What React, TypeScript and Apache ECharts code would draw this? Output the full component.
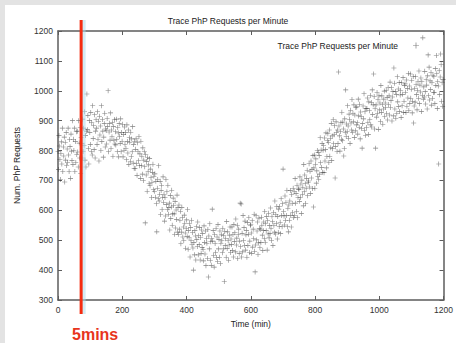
import { useEffect, useRef } from 'react';
import * as echarts from 'echarts';

const chartTitle = 'Trace PhP Requests per Minute';
const seriesName = 'Trace PhP Requests per Minute';
const xAxisName = 'Time (min)';
const yAxisName = 'Num. PhP Requests';
const markerLabel = '5mins';
const markerMinute = 72;
const minuteStep = 1.5;
const xRange = [0, 1200];
const xTickStep = 200;
const yRange = [300, 1200];
const yTickStep = 100;

// Requests per sample, one sample every 1.5 minutes (20 samples = 30 minutes per row)
const requests = [
  797, 737, 850, 815, 770, 703, 790, 829, 755, 875, 730, 812, 782, 845, 695, 828, 768, 860, 750, 805,
  760, 875, 785, 730, 837, 813, 707, 855, 798, 767, 900, 753, 838, 800, 875, 730, 830, 760, 863, 787,
  865, 795, 745, 900, 825, 775, 877, 723, 843, 823, 775, 905, 797, 875, 818, 930, 768, 850, 745, 865,
  989, 870, 917, 807, 755, 900, 860, 820, 927, 797, 893, 785, 950, 840, 883, 803, 920, 775, 865, 903,
  875, 820, 930, 838, 898, 765, 915, 852, 882, 800, 950, 830, 904, 865, 778, 845, 890, 925, 812, 872,
  867, 822, 907, 880, 1000, 796, 862, 891, 835, 926, 807, 869, 846, 893, 781, 880, 835, 904, 822, 863,
  819, 905, 837, 796, 877, 859, 779, 890, 847, 824, 906, 796, 860, 831, 888, 779, 854, 801, 879, 821,
  860, 807, 769, 886, 830, 792, 869, 753, 843, 828, 764, 861, 780, 839, 796, 880, 758, 820, 741, 831,
  740, 804, 839, 756, 717, 826, 796, 766, 847, 749, 789, 707, 831, 749, 781, 721, 809, 700, 768, 796,
  746, 558, 787, 718, 763, 664, 776, 729, 752, 690, 773, 682, 738, 709, 643, 694, 727, 754, 669, 714,
  664, 722, 644, 697, 622, 528, 674, 703, 639, 749, 631, 654, 697, 586, 666, 684, 603, 644, 712, 626,
  654, 564, 643, 581, 703, 619, 662, 603, 684, 587, 609, 624, 534, 650, 573, 611, 667, 550, 588, 641,
  616, 588, 520, 629, 541, 601, 569, 651, 527, 609, 520, 618, 537, 567, 597, 488, 527, 610, 575, 511,
  544, 499, 584, 557, 524, 473, 539, 568, 512, 603, 470, 532, 509, 556, 444, 543, 498, 567, 485, 526,
  474, 400, 492, 451, 532, 514, 434, 545, 502, 479, 561, 451, 515, 486, 543, 434, 509, 456, 534, 476,
  522, 469, 431, 548, 492, 454, 531, 415, 505, 490, 439, 536, 377, 514, 471, 555, 433, 495, 416, 506,
  604, 497, 532, 449, 410, 519, 489, 459, 540, 442, 511, 429, 553, 471, 503, 443, 531, 422, 490, 518,
  499, 458, 540, 471, 516, 362, 529, 482, 505, 443, 563, 472, 528, 499, 433, 484, 517, 544, 459, 504,
  486, 544, 466, 519, 444, 553, 496, 525, 461, 571, 484, 507, 550, 439, 519, 537, 456, 497, 624, 479,
  621, 444, 523, 461, 583, 499, 542, 483, 564, 467, 518, 533, 443, 559, 482, 520, 576, 459, 497, 550,
  552, 524, 456, 565, 477, 537, 505, 587, 463, 394, 484, 582, 501, 531, 561, 452, 491, 574, 539, 475,
  537, 492, 577, 550, 517, 466, 532, 561, 505, 596, 493, 555, 532, 579, 467, 566, 521, 590, 508, 549,
  522, 608, 540, 499, 580, 562, 482, 593, 550, 527, 631, 521, 585, 556, 613, 504, 579, 526, 604, 546,
  613, 560, 522, 639, 583, 545, 622, 738, 596, 581, 551, 648, 567, 626, 583, 667, 545, 607, 528, 618,
  567, 631, 666, 583, 544, 653, 623, 593, 674, 576, 664, 582, 706, 624, 656, 596, 684, 575, 643, 671,
  671, 630, 712, 643, 688, 589, 701, 654, 677, 615, 753, 662, 718, 689, 623, 674, 707, 734, 649, 694,
  698, 756, 678, 731, 656, 765, 708, 737, 673, 783, 611, 742, 785, 674, 754, 772, 691, 732, 800, 714,
  794, 704, 783, 721, 843, 759, 802, 743, 824, 727, 801, 816, 726, 842, 765, 803, 859, 742, 780, 833,
  856, 828, 760, 869, 781, 841, 809, 891, 767, 849, 806, 904, 823, 853, 883, 708, 813, 896, 861, 797,
  869, 824, 1063, 882, 849, 798, 864, 893, 837, 928, 833, 895, 872, 782, 807, 906, 861, 1003, 848, 889,
  864, 950, 882, 841, 922, 904, 824, 935, 892, 869, 971, 861, 925, 896, 953, 844, 919, 866, 944, 886,
  946, 893, 855, 972, 916, 878, 955, 839, 929, 914, 874, 808, 890, 949, 906, 990, 868, 930, 851, 941,
  877, 941, 976, 893, 854, 963, 933, 903, 984, 886, 961, 879, 1003, 921, 953, 1056, 981, 872, 940, 808,
  953, 912, 994, 925, 970, 871, 983, 936, 959, 897, 1018, 927, 983, 954, 888, 939, 972, 999, 914, 959,
  944, 1002, 924, 977, 902, 1011, 954, 983, 919, 1029, 944, 967, 1010, 899, 979, 997, 916, 1076, 1025, 939,
  998, 908, 987, 925, 1047, 963, 1006, 947, 1028, 931, 986, 1001, 911, 1027, 950, 988, 1044, 927, 965, 1018,
  1023, 995, 927, 1036, 948, 1008, 976, 1058, 934, 1016, 958, 1056, 975, 1005, 1035, 926, 965, 1048, 892, 949,
  1007, 962, 1047, 1020, 987, 936, 1002, 1031, 975, 1066, 957, 1019, 996, 1043, 931, 1030, 985, 1177, 972, 1013,
  979, 1065, 997, 956, 1037, 1019, 939, 1050, 1120, 984, 1079, 969, 1033, 1004, 1061, 952, 1027, 974, 1052, 994,
  1048, 995, 957, 1074, 1018, 1118, 1057, 941, 1031, 1016, 755, 1068, 987, 1046, 1123, 1087, 965, 1027, 948, 1038,
];

const FONT = '"Liberation Sans", Arial, Helvetica, sans-serif';
const PLUS = 'path://M4.4,0H5.6V4.4H10V5.6H5.6V10H4.4V5.6H0V4.4H4.4Z';

export default function App() {
  const ref = useRef<HTMLDivElement>(null);

  useEffect(() => {
    document.body.style.margin = '0';
    if (!ref.current) return;
    const chart = echarts.init(ref.current, null, { renderer: 'svg' });
    const points = requests.map((v, i) => [i * minuteStep, v]);

    const axisLine = { show: true, onZero: false, lineStyle: { color: '#5c5c5c', width: 1.5 } };
    const axisTick = { show: true, inside: true, length: 4, lineStyle: { color: '#5c5c5c', width: 1 } };
    const labelStyle = { color: '#333', fontSize: 8.5, fontFamily: FONT, formatter: (v: number) => String(v) };

    chart.setOption({
      animation: false,
      backgroundColor: 'transparent',
      textStyle: { fontFamily: FONT },
      title: {
        text: chartTitle,
        left: 'center',
        top: 11,
        textStyle: { fontSize: 8.5, fontWeight: 'normal', color: '#222', fontFamily: FONT },
      },
      legend: {
        data: [{ name: seriesName, icon: PLUS }],
        right: 32,
        top: 36,
        align: 'right',
        itemWidth: 6,
        itemHeight: 6,
        textStyle: { fontSize: 8.5, color: '#222', fontFamily: FONT, padding: [0, 10, 0, 0] },
      },
      grid: { left: 58, right: 12, top: 31, bottom: 43 },
      xAxis: [
        {
          type: 'value',
          min: xRange[0],
          max: xRange[1],
          interval: xTickStep,
          name: xAxisName,
          nameLocation: 'middle',
          nameGap: 19,
          nameTextStyle: { color: '#222', fontSize: 8.5, fontFamily: FONT },
          axisLine,
          axisTick,
          axisLabel: { ...labelStyle, margin: 5 },
          splitLine: { show: false },
        },
        {
          type: 'value',
          position: 'top',
          min: xRange[0],
          max: xRange[1],
          interval: xTickStep,
          axisLine,
          axisTick,
          axisLabel: { show: false },
          splitLine: { show: false },
        },
      ],
      yAxis: [
        {
          type: 'value',
          min: yRange[0],
          max: yRange[1],
          interval: yTickStep,
          name: yAxisName,
          nameLocation: 'middle',
          nameGap: 37,
          nameTextStyle: { color: '#222', fontSize: 8.5, fontFamily: FONT },
          axisLine,
          axisTick,
          axisLabel: { ...labelStyle, margin: 5 },
          splitLine: { show: false },
        },
        {
          type: 'value',
          position: 'right',
          min: yRange[0],
          max: yRange[1],
          interval: yTickStep,
          axisLine,
          axisTick,
          axisLabel: { show: false },
          splitLine: { show: false },
        },
      ],
      series: [
        {
          name: seriesName,
          type: 'scatter',
          data: points,
          symbol: PLUS,
          symbolSize: 5,
          itemStyle: { color: 'rgba(35,35,35,0.72)' },
          emphasis: { disabled: true },
        },
      ],
    });

    const px = chart.convertToPixel({ xAxisIndex: 0 }, markerMinute) as number;
    const top = chart.convertToPixel({ yAxisIndex: 0 }, yRange[1]) as number;
    const bottom = chart.convertToPixel({ yAxisIndex: 0 }, yRange[0]) as number;

    chart.setOption({
      graphic: [
        {
          type: 'line',
          shape: { x1: px + 2.5, y1: top - 11, x2: px + 2.5, y2: bottom + 14 },
          style: { stroke: 'rgba(175,220,235,0.55)', lineWidth: 4 },
          z: 100,
        },
        {
          type: 'line',
          shape: { x1: px, y1: top - 11, x2: px, y2: bottom + 14 },
          style: { stroke: '#f52c10', lineWidth: 3 },
          z: 101,
        },
        {
          type: 'text',
          x: px + 14,
          y: bottom + 34,
          style: {
            text: markerLabel,
            fill: '#e8341c',
            font: `bold 16px ${FONT}`,
            textAlign: 'center',
            textVerticalAlign: 'middle',
          },
          z: 101,
        },
      ],
    });

    return () => chart.dispose();
  }, []);

  return (
    <div style={{ position: 'relative', width: 456, height: 343, background: '#e3e3e3', overflow: 'hidden' }}>
      <div style={{ position: 'absolute', left: 5, top: 5, right: 0, bottom: 0, background: '#ffffff' }} />
      <div ref={ref} style={{ position: 'absolute', left: 0, top: 0, width: 456, height: 343 }} />
    </div>
  );
}
